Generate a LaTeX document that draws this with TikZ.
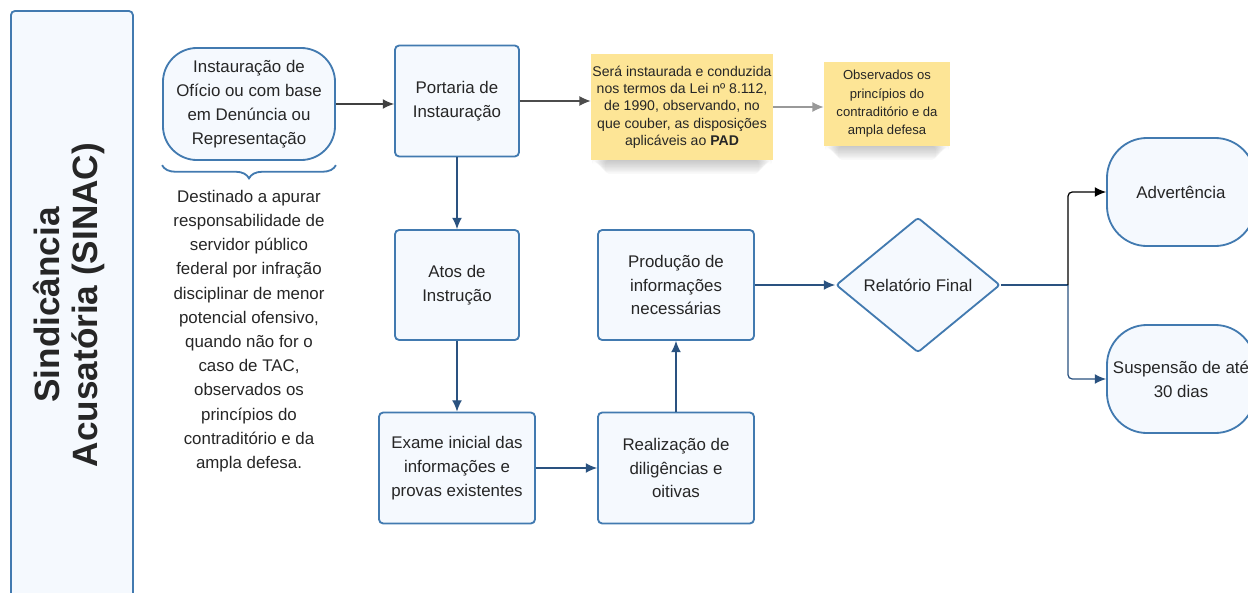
\documentclass[tikz,border=0pt]{standalone}
\usepackage{fontspec}
\setmainfont{Liberation Sans}
\usepackage{tikz}
\usetikzlibrary{shapes.geometric,arrows.meta,decorations.pathreplacing}
\pgfdeclarelayer{hinten}
\pgfsetlayers{hinten,main}
\definecolor{rand}{RGB}{66,122,176}
\definecolor{hellblau}{RGB}{245,249,254}
\definecolor{pfeil}{RGB}{42,82,128}
\definecolor{gelb}{RGB}{253,229,150}
\definecolor{schrift}{RGB}{38,38,38}

\begin{document}
\begin{tikzpicture}[
x=0.025cm, y=-0.025cm,
font=\fontsize{12}{17}\selectfont,
>={Latex[length=8pt,width=7pt]},   % Pfeilspitzen
kasten/.style={draw=rand, line width=1.3pt, fill=hellblau, rounded corners=3pt,
  text=schrift, align=center, inner sep=0pt},
rundkasten/.style={kasten, rounded corners=0.85cm},
notiz/.style={fill=gelb, align=center, text=schrift, inner sep=0pt},
verb/.style={->, draw=pfeil, line width=0.9pt}
]

\useasboundingbox (0,0) rectangle (1248,592);

% Seitenleiste
\node[kasten, anchor=north west, minimum width=3.05cm, minimum height=14.9cm] (leiste) at (10,10) {};
\node[rotate=90, align=center, text=schrift, font=\fontsize{25}{27}\selectfont\bfseries] (titel) at (69,305)
  {Sindicância\\Acusatória (SINAC)};

% Start und Beschreibung
\node[rundkasten, minimum width=4.3cm, minimum height=2.8cm] (start) at (249,104)
  {Instauração de\\Ofício ou com base\\em Denúncia ou\\Representação};
\draw[rand, line width=1.3pt, decorate, decoration={brace, mirror, amplitude=0.33cm}]
  ([yshift=-3pt]start.south west) -- ([yshift=-3pt]start.south east);
\node[align=center, text=schrift, font=\fontsize{12}{17.2}\selectfont] (beschr) at (249,331)
  {Destinado a apurar\\responsabilidade de\\servidor público\\federal por infração\\disciplinar de menor\\potencial ofensivo,\\quando não for o\\caso de TAC,\\observados os\\princípios do\\contraditório e da\\ampla defesa.};

% Obere Reihe
\node[kasten, minimum width=3.1cm, minimum height=2.775cm] (portaria) at (457,101) {Portaria de\\Instauração};
\node[notiz, minimum width=4.55cm, minimum height=2.625cm, font=\fontsize{10}{12.3}\selectfont] (notiz1) at (682,107)
  {Será instaurada e conduzida\\nos termos da Lei nº 8.112,\\de 1990, observando, no\\que couber, as disposições\\aplicáveis ao \textbf{PAD}};
\node[notiz, minimum width=3.15cm, minimum height=2.075cm, font=\fontsize{9.3}{13}\selectfont] (notiz2) at (887,104)
  {Observados os\\princípios do\\contraditório e da\\ampla defesa};

% weiche Schatten unter den Notizen
\begin{pgfonlayer}{hinten}
\foreach \n in {notiz1,notiz2}
  \foreach \d in {1,...,10}
    \fill[black, opacity=0.022, rounded corners=3pt]
      ([xshift=\d pt]\n.south west) rectangle ([xshift=-\d pt, yshift=-\d pt]\n.south east);
\end{pgfonlayer}

% Instruktion
\node[kasten, minimum width=3.1cm, minimum height=2.75cm] (atos) at (457,285) {Atos de\\Instrução};
\node[kasten, minimum width=3.9cm, minimum height=2.775cm] (exame) at (457,468)
  {Exame inicial das\\informações e\\provas existentes};
\node[kasten, minimum width=3.9cm, minimum height=2.775cm] (realiz) at (676,468)
  {Realização de\\diligências e\\oitivas};
\node[kasten, minimum width=3.9cm, minimum height=2.75cm] (producao) at (676,285)
  {Produção de\\informações\\necessárias};

% Entscheidung
\node[kasten, diamond, aspect=1.21, rounded corners=2pt, minimum width=4.1cm, minimum height=3.375cm] (relat) at (918,285)
  {Relatório Final};
\node[rundkasten, minimum width=3.7cm, minimum height=2.7cm, rounded corners=1cm] (advert) at (1181,192) {Advertência};
\node[rundkasten, minimum width=3.7cm, minimum height=2.7cm, rounded corners=1cm] (susp) at (1181,379)
  {Suspensão de até\\30 dias};
\coordinate (gabel) at (1068,285);

% Pfeile
\draw[verb, draw=black!75] (start.east) -- (start.east -| portaria.west);
\draw[verb, draw=black!70] (portaria.east) -- (portaria.east -| notiz1.west);
\draw[verb, draw=black!40] (notiz1.east) -- (notiz1.east -| notiz2.west);
\draw[verb] (portaria) -- (atos);
\draw[verb] (atos) -- (exame);
\draw[verb] (exame) -- (realiz);
\draw[verb] (realiz) -- (producao);
\draw[verb] (producao.east) -- (relat.west);
\draw[pfeil, line width=0.9pt] (relat.east) -- (gabel);
\draw[verb, draw=black, rounded corners=3pt] (gabel) |- (advert.west);
\draw[verb, rounded corners=3pt] (gabel) |- (susp.west);

\end{tikzpicture}
\end{document}
